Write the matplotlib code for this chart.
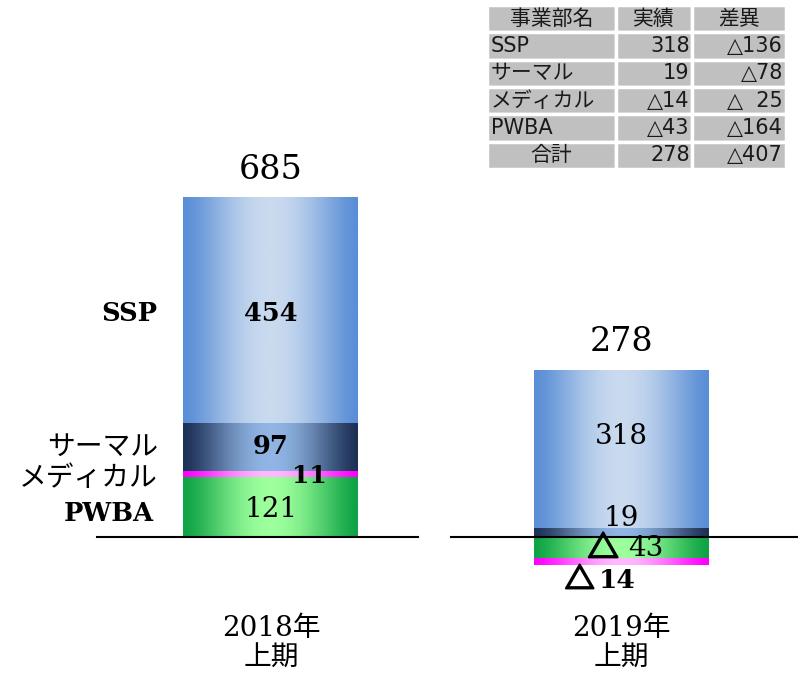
import numpy as np
import matplotlib
matplotlib.use("Agg")
import matplotlib.pyplot as plt
import matplotlib.patheffects as pe
from matplotlib.colors import LinearSegmentedColormap

# data
periods = ["2018年\n上期", "2019年\n上期"]
segments = ["PWBA", "メディカル", "サーマル", "SSP"]
values = {
    "SSP": [454, 318],
    "サーマル": [97, 19],
    "メディカル": [11, -14],
    "PWBA": [121, -43],
}
totals = [685, 278]

table_header = ["事業部名", "実績", "差異"]
table_rows = [
    ["SSP", "318", "△136"],
    ["サーマル", "19", "△78"],
    ["メディカル", "△14", "△  25"],
    ["PWBA", "△43", "△164"],
    ["合計", "278", "△407"],
]

# colours (edge, centre) for the horizontal gradient
grad = {
    "SSP": ("#5A8ED6", "#C9DAEF"),
    "サーマル": ("#1D3156", "#90B5E4"),
    "メディカル": ("#FF00FF", "#FFB8FF"),
    "PWBA": ("#0FA345", "#9CFF9C"),
}

W, H = 798, 676
fig = plt.figure(figsize=(W / 100, H / 100), dpi=100)
ax = fig.add_axes([0, 0, 1, 1])
ax.set_axis_off()

# pixel geometry -> data limits
px_per_x = 350.0
px_per_y = 340.0 / 685
x0_px, base_px = 271, 537
xlim = (-x0_px / px_per_x, (W - x0_px) / px_per_x)
ylim = (-(H - base_px) / px_per_y, base_px / px_per_y)

bar_w = 0.5
u = np.linspace(0, 1, 256)
prof = np.sin(np.pi * u) ** 1.4


def grad_bar(x, bottom, height, name):
    c_edge, c_mid = grad[name]
    cmap = LinearSegmentedColormap.from_list(name, [c_edge, c_mid])
    y0, y1 = sorted([bottom, bottom + height])
    ax.imshow(prof[None, :], cmap=cmap, vmin=0, vmax=1, aspect="auto",
              extent=[x - bar_w / 2, x + bar_w / 2, y0, y1],
              interpolation="bilinear", zorder=2)


xs = np.arange(len(periods))
for i, x in enumerate(xs):
    pos, neg = 0.0, 0.0
    for name in segments:
        v = values[name][i]
        if v >= 0:
            grad_bar(x, pos, v, name)
            pos += v
        else:
            grad_bar(x, neg, v, name)
            neg += v

ax.set_xlim(*xlim)
ax.set_ylim(*ylim)

# baseline (two segments)
ax.plot([(97 - x0_px) / px_per_x, (418 - x0_px) / px_per_x], [0, 0],
        color="black", lw=1.5, zorder=5)
ax.plot([(451 - x0_px) / px_per_x, (797 - x0_px) / px_per_x], [0, 0],
        color="black", lw=1.5, zorder=5)

serif = ["DejaVu Serif", "DejaVu Sans"]
jp = ["Noto Sans CJK JP", "DejaVu Sans"]
mixed = ["DejaVu Serif", "Noto Sans CJK JP"]
thick = [pe.withStroke(linewidth=1.6, foreground="black")]

# totals above bars
for i, x in enumerate(xs):
    top = sum(values[n][i] for n in segments if values[n][i] > 0)
    ax.text(x, top + 56, str(totals[i]), ha="center", va="center",
            fontsize=24, family=serif, zorder=6)

# 2018 segment labels
v = {n: values[n][0] for n in segments}
ax.text(0, v["PWBA"] + v["メディカル"] + v["サーマル"] + v["SSP"] / 2 - 6, "454",
        ha="center", va="center", fontsize=18.5, family=serif,
        fontweight="bold", zorder=6)
ax.text(0, v["PWBA"] + v["メディカル"] + v["サーマル"] / 2 + 1, "97",
        ha="center", va="center", fontsize=18.5, family=serif,
        fontweight="bold", zorder=6)
ax.text(0.11, v["PWBA"] + v["メディカル"] / 2 - 4, "11",
        ha="center", va="center", fontsize=18, family=serif,
        fontweight="bold", zorder=6)
ax.text(0, v["PWBA"] / 2 - 6, "121",
        ha="center", va="center", fontsize=20, family=serif, zorder=6)

# 2019 segment labels
v = {n: values[n][1] for n in segments}
ax.text(1, v["サーマル"] + v["SSP"] / 2 + 24, "318",
        ha="center", va="center", fontsize=20, family=serif, zorder=6)
ax.text(1, v["サーマル"] + 19, "19",
        ha="center", va="center", fontsize=20, family=serif, zorder=6)
# negative values: triangle + number
y43 = v["PWBA"] / 2 - 1
ax.text(0.949, y43 - 2, "△", ha="center", va="center", fontsize=22,
        family=jp, path_effects=thick, zorder=6)
ax.text(1.071, y43, str(abs(v["PWBA"])), ha="center", va="center",
        fontsize=20, family=serif, zorder=6)
y14 = v["PWBA"] + v["メディカル"] - 31
ax.text(0.882, y14, "△", ha="center", va="center", fontsize=21,
        family=jp, path_effects=thick, zorder=6)
ax.text(0.989, y14, str(abs(v["メディカル"])), ha="center", va="center",
        fontsize=19, family=serif, fontweight="bold", zorder=6)

# segment names on the left
lx = (157 - x0_px) / px_per_x
v = {n: values[n][0] for n in segments}
ax.text(lx, v["PWBA"] + v["メディカル"] + v["サーマル"] + v["SSP"] / 2 - 6, "SSP",
        ha="right", va="center", fontsize=18.5, family=serif,
        fontweight="bold", zorder=6)
ax.text(lx + 0.003, v["PWBA"] + v["メディカル"] + v["サーマル"] / 2 + 2, "サーマル",
        ha="right", va="center", fontsize=20, family=jp, zorder=6)
ax.text(lx + 0.003, v["PWBA"] + v["メディカル"] / 2 - 8, "メディカル",
        ha="right", va="center", fontsize=20, family=jp, zorder=6)
ax.text(lx - 0.01, v["PWBA"] / 2 - 14, "PWBA",
        ha="right", va="center", fontsize=18.5, family=serif,
        fontweight="bold", zorder=6)

# period labels
for i, x in enumerate(xs):
    ax.text(x, -214, periods[i], ha="center", va="center", fontsize=20,
            family=mixed, linespacing=1.12, zorder=6)

# table top right
tb_l, tb_r, tb_t, tb_b = 487, 786, 5, 169
tbl = ax.table(cellText=table_rows, colLabels=table_header,
               colWidths=[129, 76, 94],
               bbox=[tb_l / W, 1 - tb_b / H, (tb_r - tb_l) / W, (tb_b - tb_t) / H])
tbl.auto_set_font_size(False)
for (r, c), cell in tbl.get_celld().items():
    cell.set_facecolor("#C0C0C0")
    cell.set_edgecolor("white")
    cell.set_linewidth(2.5)
    cell.get_text().set_fontsize(15)
    cell.get_text().set_family(["DejaVu Sans", "Noto Sans CJK JP"])
    cell.get_text().set_color("#1a1a1a")
    cell.PAD = 0.03
    if r == 0:
        cell._loc = "center"
        cell.get_text().set_ha("center")
    elif c == 0:
        if table_rows[r - 1][0] == "合計":
            cell._loc = "center"
            cell.get_text().set_ha("center")
        else:
            cell._loc = "left"
            cell.get_text().set_ha("left")
    else:
        cell._loc = "right"
        cell.get_text().set_ha("right")

fig.savefig("out.png", dpi=100)
